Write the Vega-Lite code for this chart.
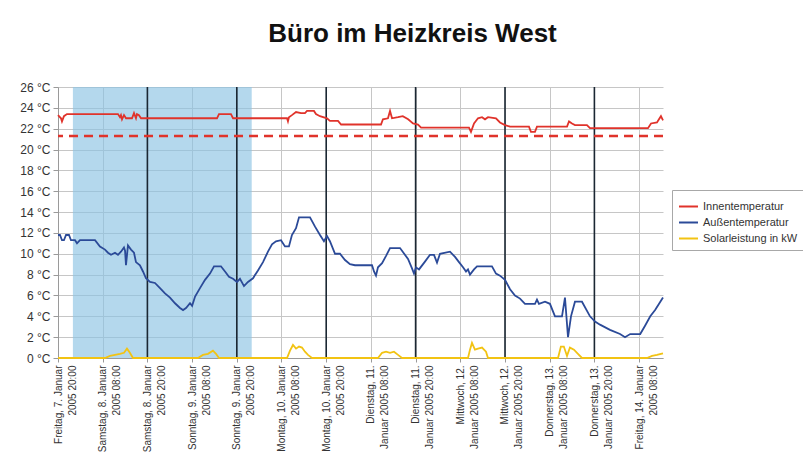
{
  "$schema": "https://vega.github.io/schema/vega-lite/v6.json",
  "width": 605,
  "height": 271,
  "autosize": {"type": "none"},
  "padding": {"left": 58, "top": 87, "right": 140, "bottom": 106},
  "background": "white",
  "title": {
    "text": "Büro im Heizkreis West",
    "font": "Liberation Sans",
    "fontSize": 26,
    "fontWeight": "bold",
    "color": "#111111",
    "anchor": "middle",
    "frame": "group",
    "dx": 52,
    "offset": 34
  },
  "datasets": {
    "weekend": [{"start": "2005-01-08T00:00", "end": "2005-01-10T00:00"}],
    "separators": [
      {"t": "2005-01-08T20:00"}, {"t": "2005-01-09T20:00"}, {"t": "2005-01-10T20:00"},
      {"t": "2005-01-11T20:00"}, {"t": "2005-01-12T20:00"}, {"t": "2005-01-13T20:00"}
    ],
    "soll": [{"soll": 21.3}],
    "messung": [
      {"t": "2005-01-07T20:00", "s": "Innentemperatur", "v": 23.3},
      {"t": "2005-01-07T20:48", "s": "Innentemperatur", "v": 23.0},
      {"t": "2005-01-07T21:04", "s": "Innentemperatur", "v": 22.7},
      {"t": "2005-01-07T21:36", "s": "Innentemperatur", "v": 23.2},
      {"t": "2005-01-07T22:24", "s": "Innentemperatur", "v": 23.4},
      {"t": "2005-01-08T12:06", "s": "Innentemperatur", "v": 23.4},
      {"t": "2005-01-08T12:38", "s": "Innentemperatur", "v": 23.1},
      {"t": "2005-01-08T12:54", "s": "Innentemperatur", "v": 23.3},
      {"t": "2005-01-08T13:11", "s": "Innentemperatur", "v": 22.9},
      {"t": "2005-01-08T13:43", "s": "Innentemperatur", "v": 23.3},
      {"t": "2005-01-08T14:15", "s": "Innentemperatur", "v": 23.0},
      {"t": "2005-01-08T15:52", "s": "Innentemperatur", "v": 23.0},
      {"t": "2005-01-08T16:24", "s": "Innentemperatur", "v": 23.5},
      {"t": "2005-01-08T16:56", "s": "Innentemperatur", "v": 23.0},
      {"t": "2005-01-08T17:12", "s": "Innentemperatur", "v": 23.4},
      {"t": "2005-01-08T17:44", "s": "Innentemperatur", "v": 23.3},
      {"t": "2005-01-08T18:17", "s": "Innentemperatur", "v": 23.0},
      {"t": "2005-01-09T14:41", "s": "Innentemperatur", "v": 23.0},
      {"t": "2005-01-09T15:13", "s": "Innentemperatur", "v": 23.4},
      {"t": "2005-01-09T18:26", "s": "Innentemperatur", "v": 23.4},
      {"t": "2005-01-09T18:59", "s": "Innentemperatur", "v": 23.0},
      {"t": "2005-01-10T09:29", "s": "Innentemperatur", "v": 23.0},
      {"t": "2005-01-10T09:44", "s": "Innentemperatur", "v": 22.7},
      {"t": "2005-01-10T10:00", "s": "Innentemperatur", "v": 23.1},
      {"t": "2005-01-10T10:48", "s": "Innentemperatur", "v": 23.3},
      {"t": "2005-01-10T11:54", "s": "Innentemperatur", "v": 23.6},
      {"t": "2005-01-10T13:14", "s": "Innentemperatur", "v": 23.5},
      {"t": "2005-01-10T14:18", "s": "Innentemperatur", "v": 23.5},
      {"t": "2005-01-10T14:51", "s": "Innentemperatur", "v": 23.7},
      {"t": "2005-01-10T16:43", "s": "Innentemperatur", "v": 23.7},
      {"t": "2005-01-10T17:15", "s": "Innentemperatur", "v": 23.4},
      {"t": "2005-01-10T18:20", "s": "Innentemperatur", "v": 23.2},
      {"t": "2005-01-10T20:13", "s": "Innentemperatur", "v": 23.0},
      {"t": "2005-01-10T21:00", "s": "Innentemperatur", "v": 22.75},
      {"t": "2005-01-10T23:10", "s": "Innentemperatur", "v": 22.75},
      {"t": "2005-01-11T00:00", "s": "Innentemperatur", "v": 22.4},
      {"t": "2005-01-11T10:43", "s": "Innentemperatur", "v": 22.4},
      {"t": "2005-01-11T11:14", "s": "Innentemperatur", "v": 22.9},
      {"t": "2005-01-11T12:35", "s": "Innentemperatur", "v": 23.0},
      {"t": "2005-01-11T13:08", "s": "Innentemperatur", "v": 23.7},
      {"t": "2005-01-11T13:40", "s": "Innentemperatur", "v": 23.0},
      {"t": "2005-01-11T15:17", "s": "Innentemperatur", "v": 23.1},
      {"t": "2005-01-11T16:34", "s": "Innentemperatur", "v": 23.2},
      {"t": "2005-01-11T18:00", "s": "Innentemperatur", "v": 22.9},
      {"t": "2005-01-11T19:18", "s": "Innentemperatur", "v": 22.5},
      {"t": "2005-01-11T20:39", "s": "Innentemperatur", "v": 22.4},
      {"t": "2005-01-11T21:28", "s": "Innentemperatur", "v": 22.1},
      {"t": "2005-01-12T10:20", "s": "Innentemperatur", "v": 22.1},
      {"t": "2005-01-12T10:52", "s": "Innentemperatur", "v": 21.7},
      {"t": "2005-01-12T11:41", "s": "Innentemperatur", "v": 22.5},
      {"t": "2005-01-12T12:45", "s": "Innentemperatur", "v": 23.0},
      {"t": "2005-01-12T13:50", "s": "Innentemperatur", "v": 23.1},
      {"t": "2005-01-12T14:38", "s": "Innentemperatur", "v": 22.9},
      {"t": "2005-01-12T15:26", "s": "Innentemperatur", "v": 23.1},
      {"t": "2005-01-12T17:35", "s": "Innentemperatur", "v": 23.0},
      {"t": "2005-01-12T18:39", "s": "Innentemperatur", "v": 22.6},
      {"t": "2005-01-12T20:00", "s": "Innentemperatur", "v": 22.35},
      {"t": "2005-01-12T21:21", "s": "Innentemperatur", "v": 22.2},
      {"t": "2005-01-13T02:26", "s": "Innentemperatur", "v": 22.2},
      {"t": "2005-01-13T02:58", "s": "Innentemperatur", "v": 21.7},
      {"t": "2005-01-13T04:03", "s": "Innentemperatur", "v": 21.7},
      {"t": "2005-01-13T04:35", "s": "Innentemperatur", "v": 22.2},
      {"t": "2005-01-13T12:39", "s": "Innentemperatur", "v": 22.2},
      {"t": "2005-01-13T13:11", "s": "Innentemperatur", "v": 22.7},
      {"t": "2005-01-13T13:59", "s": "Innentemperatur", "v": 22.5},
      {"t": "2005-01-13T14:47", "s": "Innentemperatur", "v": 22.35},
      {"t": "2005-01-13T18:00", "s": "Innentemperatur", "v": 22.35},
      {"t": "2005-01-13T18:49", "s": "Innentemperatur", "v": 22.05},
      {"t": "2005-01-14T10:23", "s": "Innentemperatur", "v": 22.05},
      {"t": "2005-01-14T11:12", "s": "Innentemperatur", "v": 22.5},
      {"t": "2005-01-14T12:48", "s": "Innentemperatur", "v": 22.6},
      {"t": "2005-01-14T13:20", "s": "Innentemperatur", "v": 22.9},
      {"t": "2005-01-14T13:52", "s": "Innentemperatur", "v": 23.2},
      {"t": "2005-01-14T14:25", "s": "Innentemperatur", "v": 22.8},

      {"t": "2005-01-07T20:00", "s": "Außentemperatur", "v": 11.8},
      {"t": "2005-01-07T20:32", "s": "Außentemperatur", "v": 11.8},
      {"t": "2005-01-07T21:04", "s": "Außentemperatur", "v": 11.3},
      {"t": "2005-01-07T21:36", "s": "Außentemperatur", "v": 11.3},
      {"t": "2005-01-07T22:09", "s": "Außentemperatur", "v": 11.8},
      {"t": "2005-01-07T22:57", "s": "Außentemperatur", "v": 11.8},
      {"t": "2005-01-07T23:29", "s": "Außentemperatur", "v": 11.3},
      {"t": "2005-01-08T00:34", "s": "Außentemperatur", "v": 11.3},
      {"t": "2005-01-08T01:06", "s": "Außentemperatur", "v": 11.0},
      {"t": "2005-01-08T01:54", "s": "Außentemperatur", "v": 11.3},
      {"t": "2005-01-08T05:56", "s": "Außentemperatur", "v": 11.3},
      {"t": "2005-01-08T07:16", "s": "Außentemperatur", "v": 10.7},
      {"t": "2005-01-08T08:37", "s": "Außentemperatur", "v": 10.4},
      {"t": "2005-01-08T09:25", "s": "Außentemperatur", "v": 10.1},
      {"t": "2005-01-08T10:14", "s": "Außentemperatur", "v": 9.9},
      {"t": "2005-01-08T11:18", "s": "Außentemperatur", "v": 10.1},
      {"t": "2005-01-08T12:06", "s": "Außentemperatur", "v": 9.9},
      {"t": "2005-01-08T12:54", "s": "Außentemperatur", "v": 10.2},
      {"t": "2005-01-08T13:43", "s": "Außentemperatur", "v": 10.6},
      {"t": "2005-01-08T14:00", "s": "Außentemperatur", "v": 10.3},
      {"t": "2005-01-08T14:15", "s": "Außentemperatur", "v": 8.9},
      {"t": "2005-01-08T14:47", "s": "Außentemperatur", "v": 10.8},
      {"t": "2005-01-08T15:36", "s": "Außentemperatur", "v": 10.4},
      {"t": "2005-01-08T16:24", "s": "Außentemperatur", "v": 10.1},
      {"t": "2005-01-08T16:56", "s": "Außentemperatur", "v": 9.2},
      {"t": "2005-01-08T18:00", "s": "Außentemperatur", "v": 8.9},
      {"t": "2005-01-08T18:49", "s": "Außentemperatur", "v": 8.3},
      {"t": "2005-01-08T19:37", "s": "Außentemperatur", "v": 7.65},
      {"t": "2005-01-08T20:42", "s": "Außentemperatur", "v": 7.3},
      {"t": "2005-01-08T22:02", "s": "Außentemperatur", "v": 7.2},
      {"t": "2005-01-08T23:23", "s": "Außentemperatur", "v": 6.7},
      {"t": "2005-01-09T00:43", "s": "Außentemperatur", "v": 6.2},
      {"t": "2005-01-09T02:04", "s": "Außentemperatur", "v": 5.8},
      {"t": "2005-01-09T03:25", "s": "Außentemperatur", "v": 5.25},
      {"t": "2005-01-09T04:45", "s": "Außentemperatur", "v": 4.8},
      {"t": "2005-01-09T05:34", "s": "Außentemperatur", "v": 4.6},
      {"t": "2005-01-09T06:22", "s": "Außentemperatur", "v": 4.8},
      {"t": "2005-01-09T07:26", "s": "Außentemperatur", "v": 5.25},
      {"t": "2005-01-09T08:00", "s": "Außentemperatur", "v": 5.0},
      {"t": "2005-01-09T08:48", "s": "Außentemperatur", "v": 5.9},
      {"t": "2005-01-09T10:07", "s": "Außentemperatur", "v": 6.7},
      {"t": "2005-01-09T11:28", "s": "Außentemperatur", "v": 7.5},
      {"t": "2005-01-09T12:48", "s": "Außentemperatur", "v": 8.1},
      {"t": "2005-01-09T13:53", "s": "Außentemperatur", "v": 8.8},
      {"t": "2005-01-09T15:45", "s": "Außentemperatur", "v": 8.8},
      {"t": "2005-01-09T16:50", "s": "Außentemperatur", "v": 8.3},
      {"t": "2005-01-09T17:54", "s": "Außentemperatur", "v": 7.8},
      {"t": "2005-01-09T18:59", "s": "Außentemperatur", "v": 7.6},
      {"t": "2005-01-09T20:03", "s": "Außentemperatur", "v": 7.3},
      {"t": "2005-01-09T20:51", "s": "Außentemperatur", "v": 7.6},
      {"t": "2005-01-09T21:56", "s": "Außentemperatur", "v": 6.9},
      {"t": "2005-01-09T23:00", "s": "Außentemperatur", "v": 7.3},
      {"t": "2005-01-10T00:21", "s": "Außentemperatur", "v": 7.65},
      {"t": "2005-01-10T01:41", "s": "Außentemperatur", "v": 8.4},
      {"t": "2005-01-10T03:02", "s": "Außentemperatur", "v": 9.2},
      {"t": "2005-01-10T04:22", "s": "Außentemperatur", "v": 10.2},
      {"t": "2005-01-10T05:27", "s": "Außentemperatur", "v": 10.9},
      {"t": "2005-01-10T06:31", "s": "Außentemperatur", "v": 11.2},
      {"t": "2005-01-10T07:52", "s": "Außentemperatur", "v": 11.3},
      {"t": "2005-01-10T08:56", "s": "Außentemperatur", "v": 10.7},
      {"t": "2005-01-10T10:00", "s": "Außentemperatur", "v": 10.7},
      {"t": "2005-01-10T10:48", "s": "Außentemperatur", "v": 11.8},
      {"t": "2005-01-10T11:54", "s": "Außentemperatur", "v": 12.45},
      {"t": "2005-01-10T12:42", "s": "Außentemperatur", "v": 13.5},
      {"t": "2005-01-10T15:39", "s": "Außentemperatur", "v": 13.5},
      {"t": "2005-01-10T17:00", "s": "Außentemperatur", "v": 12.6},
      {"t": "2005-01-10T18:20", "s": "Außentemperatur", "v": 11.8},
      {"t": "2005-01-10T19:24", "s": "Außentemperatur", "v": 11.2},
      {"t": "2005-01-10T20:13", "s": "Außentemperatur", "v": 11.7},
      {"t": "2005-01-10T21:00", "s": "Außentemperatur", "v": 11.2},
      {"t": "2005-01-10T22:22", "s": "Außentemperatur", "v": 10.0},
      {"t": "2005-01-10T23:42", "s": "Außentemperatur", "v": 10.0},
      {"t": "2005-01-11T01:03", "s": "Außentemperatur", "v": 9.4},
      {"t": "2005-01-11T02:23", "s": "Außentemperatur", "v": 9.0},
      {"t": "2005-01-11T03:44", "s": "Außentemperatur", "v": 8.9},
      {"t": "2005-01-11T08:18", "s": "Außentemperatur", "v": 8.9},
      {"t": "2005-01-11T08:50", "s": "Außentemperatur", "v": 8.3},
      {"t": "2005-01-11T09:22", "s": "Außentemperatur", "v": 7.9},
      {"t": "2005-01-11T09:54", "s": "Außentemperatur", "v": 8.7},
      {"t": "2005-01-11T11:00", "s": "Außentemperatur", "v": 9.1},
      {"t": "2005-01-11T12:04", "s": "Außentemperatur", "v": 9.8},
      {"t": "2005-01-11T13:08", "s": "Außentemperatur", "v": 10.55},
      {"t": "2005-01-11T15:49", "s": "Außentemperatur", "v": 10.55},
      {"t": "2005-01-11T17:58", "s": "Außentemperatur", "v": 9.5},
      {"t": "2005-01-11T19:02", "s": "Außentemperatur", "v": 8.6},
      {"t": "2005-01-11T19:34", "s": "Außentemperatur", "v": 8.1},
      {"t": "2005-01-11T20:06", "s": "Außentemperatur", "v": 8.7},
      {"t": "2005-01-11T20:55", "s": "Außentemperatur", "v": 8.5},
      {"t": "2005-01-11T22:31", "s": "Außentemperatur", "v": 9.25},
      {"t": "2005-01-11T23:52", "s": "Außentemperatur", "v": 9.9},
      {"t": "2005-01-12T00:56", "s": "Außentemperatur", "v": 9.9},
      {"t": "2005-01-12T01:45", "s": "Außentemperatur", "v": 9.15},
      {"t": "2005-01-12T02:33", "s": "Außentemperatur", "v": 10.0},
      {"t": "2005-01-12T05:14", "s": "Außentemperatur", "v": 10.2},
      {"t": "2005-01-12T06:35", "s": "Außentemperatur", "v": 9.7},
      {"t": "2005-01-12T07:39", "s": "Außentemperatur", "v": 9.2},
      {"t": "2005-01-12T08:44", "s": "Außentemperatur", "v": 8.7},
      {"t": "2005-01-12T09:32", "s": "Außentemperatur", "v": 8.3},
      {"t": "2005-01-12T10:04", "s": "Außentemperatur", "v": 8.5},
      {"t": "2005-01-12T10:36", "s": "Außentemperatur", "v": 8.0},
      {"t": "2005-01-12T11:41", "s": "Außentemperatur", "v": 8.5},
      {"t": "2005-01-12T12:29", "s": "Außentemperatur", "v": 8.8},
      {"t": "2005-01-12T16:30", "s": "Außentemperatur", "v": 8.8},
      {"t": "2005-01-12T17:35", "s": "Außentemperatur", "v": 8.1},
      {"t": "2005-01-12T18:39", "s": "Außentemperatur", "v": 7.9},
      {"t": "2005-01-12T20:00", "s": "Außentemperatur", "v": 7.5},
      {"t": "2005-01-12T21:21", "s": "Außentemperatur", "v": 6.6},
      {"t": "2005-01-12T22:41", "s": "Außentemperatur", "v": 6.0},
      {"t": "2005-01-13T00:02", "s": "Außentemperatur", "v": 5.7},
      {"t": "2005-01-13T01:22", "s": "Außentemperatur", "v": 5.2},
      {"t": "2005-01-13T04:03", "s": "Außentemperatur", "v": 5.2},
      {"t": "2005-01-13T04:35", "s": "Außentemperatur", "v": 5.6},
      {"t": "2005-01-13T05:07", "s": "Außentemperatur", "v": 5.2},
      {"t": "2005-01-13T06:44", "s": "Außentemperatur", "v": 5.4},
      {"t": "2005-01-13T08:04", "s": "Außentemperatur", "v": 5.2},
      {"t": "2005-01-13T09:25", "s": "Außentemperatur", "v": 4.0},
      {"t": "2005-01-13T11:18", "s": "Außentemperatur", "v": 4.0},
      {"t": "2005-01-13T12:06", "s": "Außentemperatur", "v": 5.8},
      {"t": "2005-01-13T12:55", "s": "Außentemperatur", "v": 2.0},
      {"t": "2005-01-13T13:43", "s": "Außentemperatur", "v": 4.0},
      {"t": "2005-01-13T14:47", "s": "Außentemperatur", "v": 5.4},
      {"t": "2005-01-13T16:40", "s": "Außentemperatur", "v": 5.4},
      {"t": "2005-01-13T18:49", "s": "Außentemperatur", "v": 4.0},
      {"t": "2005-01-13T20:10", "s": "Außentemperatur", "v": 3.5},
      {"t": "2005-01-13T21:30", "s": "Außentemperatur", "v": 3.2},
      {"t": "2005-01-14T00:11", "s": "Außentemperatur", "v": 2.7},
      {"t": "2005-01-14T02:53", "s": "Außentemperatur", "v": 2.3},
      {"t": "2005-01-14T04:13", "s": "Außentemperatur", "v": 2.0},
      {"t": "2005-01-14T05:36", "s": "Außentemperatur", "v": 2.3},
      {"t": "2005-01-14T08:18", "s": "Außentemperatur", "v": 2.3},
      {"t": "2005-01-14T09:36", "s": "Außentemperatur", "v": 3.1},
      {"t": "2005-01-14T11:00", "s": "Außentemperatur", "v": 4.0},
      {"t": "2005-01-14T12:18", "s": "Außentemperatur", "v": 4.6},
      {"t": "2005-01-14T14:25", "s": "Außentemperatur", "v": 5.8},

      {"t": "2005-01-07T20:00", "s": "Solarleistung in kW", "v": 0},
      {"t": "2005-01-08T08:37", "s": "Solarleistung in kW", "v": 0},
      {"t": "2005-01-08T09:58", "s": "Solarleistung in kW", "v": 0.2},
      {"t": "2005-01-08T11:18", "s": "Solarleistung in kW", "v": 0.3},
      {"t": "2005-01-08T12:38", "s": "Solarleistung in kW", "v": 0.4},
      {"t": "2005-01-08T13:43", "s": "Solarleistung in kW", "v": 0.5},
      {"t": "2005-01-08T14:31", "s": "Solarleistung in kW", "v": 0.9},
      {"t": "2005-01-08T15:18", "s": "Solarleistung in kW", "v": 0.5},
      {"t": "2005-01-08T16:08", "s": "Solarleistung in kW", "v": 0},
      {"t": "2005-01-09T09:35", "s": "Solarleistung in kW", "v": 0},
      {"t": "2005-01-09T10:55", "s": "Solarleistung in kW", "v": 0.3},
      {"t": "2005-01-09T12:16", "s": "Solarleistung in kW", "v": 0.4},
      {"t": "2005-01-09T13:36", "s": "Solarleistung in kW", "v": 0.7},
      {"t": "2005-01-09T14:25", "s": "Solarleistung in kW", "v": 0.4},
      {"t": "2005-01-09T15:13", "s": "Solarleistung in kW", "v": 0},
      {"t": "2005-01-10T09:29", "s": "Solarleistung in kW", "v": 0},
      {"t": "2005-01-10T10:17", "s": "Solarleistung in kW", "v": 0.7},
      {"t": "2005-01-10T11:05", "s": "Solarleistung in kW", "v": 1.25},
      {"t": "2005-01-10T11:54", "s": "Solarleistung in kW", "v": 0.9},
      {"t": "2005-01-10T12:42", "s": "Solarleistung in kW", "v": 1.1},
      {"t": "2005-01-10T13:30", "s": "Solarleistung in kW", "v": 1.0},
      {"t": "2005-01-10T14:18", "s": "Solarleistung in kW", "v": 0.6},
      {"t": "2005-01-10T15:07", "s": "Solarleistung in kW", "v": 0.3},
      {"t": "2005-01-10T16:11", "s": "Solarleistung in kW", "v": 0},
      {"t": "2005-01-11T09:54", "s": "Solarleistung in kW", "v": 0},
      {"t": "2005-01-11T11:00", "s": "Solarleistung in kW", "v": 0.5},
      {"t": "2005-01-11T12:04", "s": "Solarleistung in kW", "v": 0.6},
      {"t": "2005-01-11T13:08", "s": "Solarleistung in kW", "v": 0.5},
      {"t": "2005-01-11T14:12", "s": "Solarleistung in kW", "v": 0.6},
      {"t": "2005-01-11T15:17", "s": "Solarleistung in kW", "v": 0.3},
      {"t": "2005-01-11T16:21", "s": "Solarleistung in kW", "v": 0},
      {"t": "2005-01-12T10:04", "s": "Solarleistung in kW", "v": 0},
      {"t": "2005-01-12T10:36", "s": "Solarleistung in kW", "v": 0.8},
      {"t": "2005-01-12T11:08", "s": "Solarleistung in kW", "v": 1.45},
      {"t": "2005-01-12T11:56", "s": "Solarleistung in kW", "v": 0.8},
      {"t": "2005-01-12T12:45", "s": "Solarleistung in kW", "v": 0.9},
      {"t": "2005-01-12T13:50", "s": "Solarleistung in kW", "v": 1.0},
      {"t": "2005-01-12T14:54", "s": "Solarleistung in kW", "v": 0.6},
      {"t": "2005-01-12T15:26", "s": "Solarleistung in kW", "v": 0},
      {"t": "2005-01-13T10:14", "s": "Solarleistung in kW", "v": 0},
      {"t": "2005-01-13T11:00", "s": "Solarleistung in kW", "v": 1.1},
      {"t": "2005-01-13T11:48", "s": "Solarleistung in kW", "v": 1.1},
      {"t": "2005-01-13T12:39", "s": "Solarleistung in kW", "v": 0.2},
      {"t": "2005-01-13T13:26", "s": "Solarleistung in kW", "v": 1.0},
      {"t": "2005-01-13T14:31", "s": "Solarleistung in kW", "v": 0.8},
      {"t": "2005-01-13T15:35", "s": "Solarleistung in kW", "v": 0.4},
      {"t": "2005-01-13T16:40", "s": "Solarleistung in kW", "v": 0},
      {"t": "2005-01-14T10:07", "s": "Solarleistung in kW", "v": 0},
      {"t": "2005-01-14T11:29", "s": "Solarleistung in kW", "v": 0.2},
      {"t": "2005-01-14T12:48", "s": "Solarleistung in kW", "v": 0.3},
      {"t": "2005-01-14T14:25", "s": "Solarleistung in kW", "v": 0.45}
    ]
  },
  "layer": [
    {
      "data": {"name": "weekend"},
      "mark": {"type": "rect", "fill": "#8cc3e3", "opacity": 0.65},
      "encoding": {
        "x": {
          "field": "start",
          "type": "temporal",
          "scale": {
            "domain": [
              {"year": 2005, "month": 1, "date": 7, "hours": 20},
              {"year": 2005, "month": 1, "date": 14, "hours": 14, "minutes": 25}
            ],
            "nice": false
          },
          "axis": {
            "title": null,
            "values": [
              {"year": 2005, "month": 1, "date": 7, "hours": 20},
              {"year": 2005, "month": 1, "date": 8, "hours": 8},
              {"year": 2005, "month": 1, "date": 8, "hours": 20},
              {"year": 2005, "month": 1, "date": 9, "hours": 8},
              {"year": 2005, "month": 1, "date": 9, "hours": 20},
              {"year": 2005, "month": 1, "date": 10, "hours": 8},
              {"year": 2005, "month": 1, "date": 10, "hours": 20},
              {"year": 2005, "month": 1, "date": 11, "hours": 8},
              {"year": 2005, "month": 1, "date": 11, "hours": 20},
              {"year": 2005, "month": 1, "date": 12, "hours": 8},
              {"year": 2005, "month": 1, "date": 12, "hours": 20},
              {"year": 2005, "month": 1, "date": 13, "hours": 8},
              {"year": 2005, "month": 1, "date": 13, "hours": 20},
              {"year": 2005, "month": 1, "date": 14, "hours": 8}
            ],
            "labelExpr": "indexof([2,3,4], day(datum.value)) >= 0 ? [['Sonntag','Montag','Dienstag','Mittwoch','Donnerstag','Freitag','Samstag'][day(datum.value)] + ', ' + date(datum.value) + '.', 'Januar 2005 ' + timeFormat(datum.value, '%H:%M')] : [['Sonntag','Montag','Dienstag','Mittwoch','Donnerstag','Freitag','Samstag'][day(datum.value)] + ', ' + date(datum.value) + '. Januar', '2005 ' + timeFormat(datum.value, '%H:%M')]",
            "labelAngle": -90,
            "labelAlign": "right",
            "labelBaseline": "middle",
            "labelFont": "Liberation Sans",
            "labelFontSize": 10,
            "labelLineHeight": 14,
            "labelColor": "#333333",
            "labelPadding": 3,
            "labelOverlap": false,
            "labelFlush": false,
            "labelBound": false,
            "grid": true,
            "gridColor": "#c6c6c6",
            "gridWidth": 1,
            "domainColor": "#9a9a9a",
            "tickColor": "#9a9a9a",
            "tickSize": 4
          }
        },
        "x2": {"field": "end"}
      }
    },
    {
      "data": {"name": "separators"},
      "mark": {"type": "rule", "color": "#1b2733", "strokeWidth": 1.6},
      "encoding": {"x": {"field": "t", "type": "temporal"}}
    },
    {
      "data": {"name": "soll"},
      "mark": {"type": "rule", "color": "#e0332b", "strokeWidth": 2.5, "strokeDash": [9, 6]},
      "encoding": {
        "y": {
          "field": "soll",
          "type": "quantitative",
          "scale": {"domain": [0, 26], "nice": false, "zero": true},
          "axis": {
            "title": null,
            "values": [0, 2, 4, 6, 8, 10, 12, 14, 16, 18, 20, 22, 24, 26],
            "labelExpr": "datum.value + ' °C'",
            "labelFont": "Liberation Sans",
            "labelFontSize": 12,
            "labelColor": "#333333",
            "labelPadding": 3,
            "labelOverlap": false,
            "labelFlush": false,
            "grid": true,
            "gridColor": "#c6c6c6",
            "gridWidth": 1,
            "domainColor": "#9a9a9a",
            "tickColor": "#9a9a9a",
            "tickSize": 5
          }
        }
      }
    },
    {
      "data": {"name": "messung"},
      "mark": {"type": "line", "strokeWidth": 1.8, "interpolate": "linear"},
      "encoding": {
        "x": {"field": "t", "type": "temporal"},
        "y": {
          "field": "v",
          "type": "quantitative",
          "scale": {"domain": [0, 26], "nice": false, "zero": true},
          "axis": {
            "title": null,
            "values": [0, 2, 4, 6, 8, 10, 12, 14, 16, 18, 20, 22, 24, 26],
            "labelExpr": "datum.value + ' °C'",
            "labelFont": "Liberation Sans",
            "labelFontSize": 12,
            "labelColor": "#333333",
            "labelPadding": 3,
            "labelOverlap": false,
            "labelFlush": false,
            "grid": true,
            "gridColor": "#c6c6c6",
            "gridWidth": 1,
            "domainColor": "#9a9a9a",
            "tickColor": "#9a9a9a",
            "tickSize": 5
          }
        },
        "color": {
          "field": "s",
          "type": "nominal",
          "scale": {
            "domain": ["Innentemperatur", "Außentemperatur", "Solarleistung in kW"],
            "range": ["#e0332b", "#2b4a98", "#f2c313"]
          },
          "legend": {
            "title": null,
            "orient": "none",
            "legendX": 614,
            "legendY": 103,
            "symbolType": "stroke",
            "symbolSize": 360,
            "symbolStrokeWidth": 2,
            "labelFont": "Liberation Sans",
            "labelFontSize": 11,
            "labelColor": "#333333",
            "labelLimit": 300,
            "strokeColor": "#a8a8a8",
            "fillColor": "white",
            "padding": 6,
            "rowPadding": 0
          }
        }
      }
    }
  ],
  "config": {
    "view": {"stroke": null},
    "font": "Liberation Sans"
  }
}
